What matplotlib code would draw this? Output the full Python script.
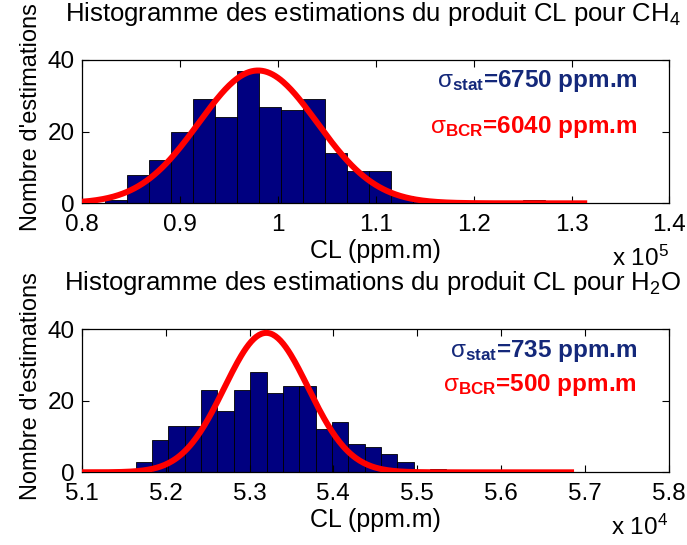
import numpy as np
import matplotlib
matplotlib.use("Agg")
import matplotlib.pyplot as plt
from matplotlib.ticker import FuncFormatter

plt.rcParams['font.family'] = ['Liberation Sans', 'DejaVu Sans']
plt.rcParams['mathtext.fontset'] = 'custom'
plt.rcParams['mathtext.rm'] = 'Liberation Sans'
plt.rcParams['mathtext.it'] = 'Liberation Sans:italic'
plt.rcParams['mathtext.bf'] = 'Liberation Sans:bold'

# --- CH4 : estimations du produit CL (ppm.m) ---
ch4_first_edge = 82380.0
ch4_bin_width = 2245.0
ch4_counts = [1, 8, 12, 20, 29, 24, 37, 27, 26, 29, 14, 9, 9, 2, 1, 1, 0, 0, 0, 1]
ch4_mean = 98000.0
ch4_sigma_stat = 6750
ch4_sigma_bcr = 6040
ch4_curve_range = [78000.0, 131600.0]
ch4_xlim = [80000, 140000]
ch4_xticks = [80000, 90000, 100000, 110000, 120000, 130000, 140000]

# --- H2O ---
h2o_first_edge = 51447.0
h2o_bin_width = 195.1
h2o_counts = [1, 3, 9, 13, 13, 23, 17, 23, 28, 22, 24, 24, 12, 14, 8, 7, 5, 3, 0, 1]
h2o_mean = 53200.0
h2o_sigma_stat = 735
h2o_sigma_bcr = 500
h2o_curve_range = [50800.0, 56870.0]
h2o_xlim = [51000, 58000]
h2o_xticks = [51000, 52000, 53000, 54000, 55000, 56000, 57000, 58000]

yticks = [0, 20, 40]

BAR = '#000080'
RED = '#ff0000'
BLUE_TXT = '#14287a'

W, H = 687, 545
fig = plt.figure(figsize=(W / 100, H / 100), dpi=100)


def panel(rect, first_edge, bw, counts, mean, s_stat, s_bcr, crange,
          xlim, xticks, scale, title, stat_y, bcr_y):
    ax = fig.add_axes(rect)
    counts = np.array(counts)
    edges = first_edge + bw * np.arange(len(counts) + 1)
    centers = 0.5 * (edges[:-1] + edges[1:])
    ax.bar(centers, counts, width=bw, color=BAR, edgecolor='black', linewidth=0.6)

    # gaussienne de la borne de Cramer-Rao, normalisee a l'histogramme
    x = np.linspace(crange[0], crange[1], 400)
    amp = counts.sum() * bw / (s_bcr * np.sqrt(2 * np.pi))
    ax.plot(x, amp * np.exp(-0.5 * ((x - mean) / s_bcr) ** 2), color=RED, lw=4.3,
            solid_capstyle='butt', zorder=3)

    ax.set_xlim(xlim)
    ax.set_ylim(0, 40)
    ax.set_xticks(xticks)
    ax.set_yticks(yticks)
    ax.xaxis.set_major_formatter(FuncFormatter(lambda v, p: '%g' % round(v / scale, 6)))
    ax.tick_params(direction='in', length=5, width=0.8, top=True, right=True,
                   labelsize=17.5, pad=5)
    ax.tick_params(axis='x', pad=7.5)
    for sp in ax.spines.values():
        sp.set_linewidth(0.9)

    ax.set_xlabel('CL (ppm.m)', fontsize=18)
    ax.xaxis.set_label_coords(0.5, -0.25)
    ax.set_ylabel("Nombre d'estimations", fontsize=17)
    ax.yaxis.set_label_coords(-0.068, 0.6)

    ax.text(0.495, 1.27, title, transform=ax.transAxes, ha='center', va='baseline',
            fontsize=18.5)
    exp = int(round(np.log10(scale)))
    ax.text(0.902, -0.44, 'x 10$^{%d}$' % exp, transform=ax.transAxes,
            ha='left', va='baseline', fontsize=17.5)

    ax.text(0.946, stat_y, r'$\mathrm{σ}_{\mathbf{stat}}$=%d ppm.m' % s_stat,
            transform=ax.transAxes, ha='right', va='baseline', fontsize=17.5,
            fontweight='bold', color=BLUE_TXT)
    ax.text(0.946, bcr_y, r'$\mathrm{σ}_{\mathbf{BCR}}$=%d ppm.m' % s_bcr,
            transform=ax.transAxes, ha='right', va='baseline', fontsize=17.5,
            fontweight='bold', color=RED)
    return ax


panel([81.7 / W, 1 - 203.3 / H, 587.8 / W, 143.3 / H],
      ch4_first_edge, ch4_bin_width, ch4_counts, ch4_mean,
      ch4_sigma_stat, ch4_sigma_bcr, ch4_curve_range, ch4_xlim, ch4_xticks, 1e5,
      'Histogramme des estimations du produit CL pour CH$_4$', 0.814, 0.488)

panel([81.8 / W, 1 - 472.3 / H, 587.0 / W, 143.3 / H],
      h2o_first_edge, h2o_bin_width, h2o_counts, h2o_mean,
      h2o_sigma_stat, h2o_sigma_bcr, h2o_curve_range, h2o_xlim, h2o_xticks, 1e4,
      'Histogramme des estimations du produit CL pour H$_2$O', 0.805, 0.567)

fig.savefig('out.png', dpi=100)
